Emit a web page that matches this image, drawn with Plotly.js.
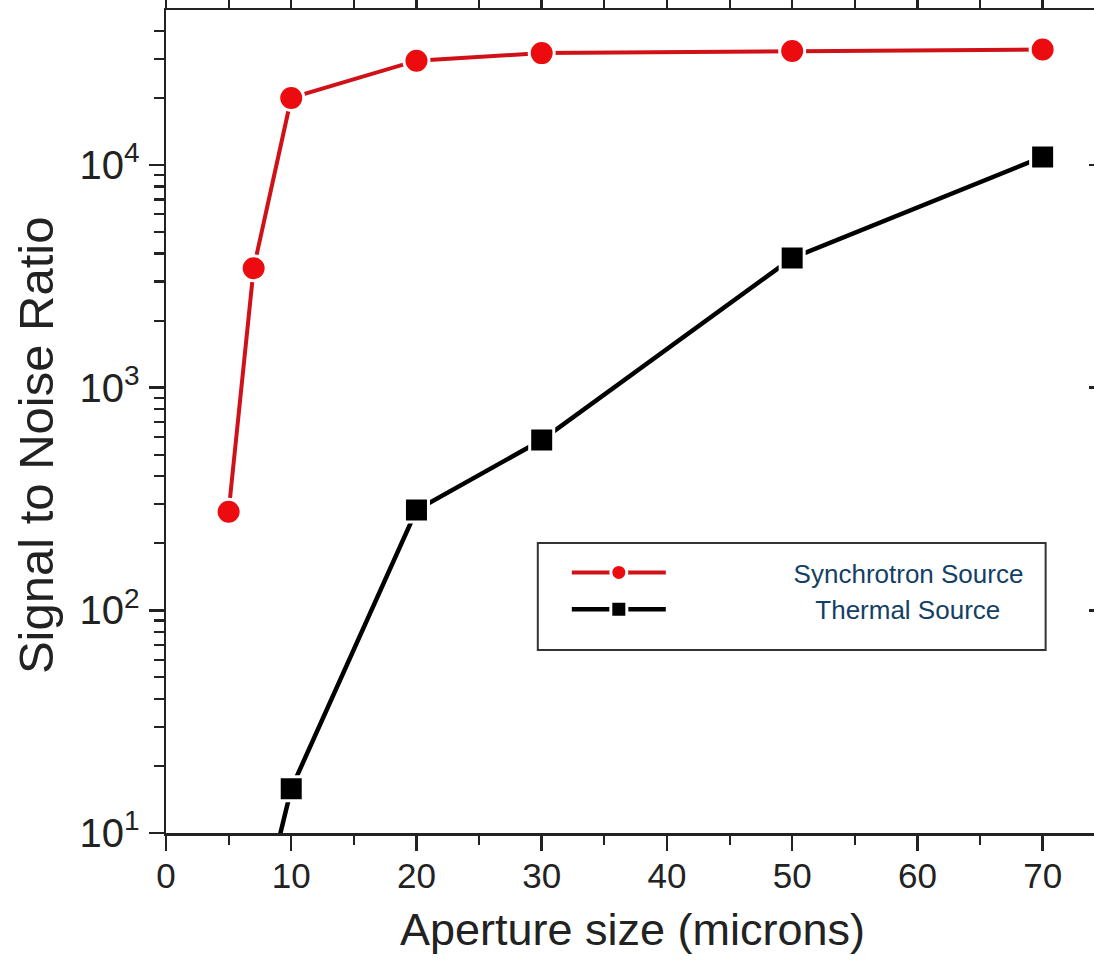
<!DOCTYPE html>
<html>
<head>
<meta charset="utf-8">
<script src="https://cdn.plot.ly/plotly-3.0.1.min.js"></script>
<style>
html, body { margin: 0; padding: 0; background: #fff; overflow: hidden; }
#chart { width: 1110px; height: 966px; }
</style>
</head>
<body>
<div id="chart"></div>
<script>
// Aperture sizes (microns) and signal-to-noise ratios
const synchrotronX = [5, 7, 10, 20, 30, 50, 70];
const synchrotronY = [277, 3436, 20000, 29400, 31800, 32500, 33000];
const thermalX = [7, 10, 20, 30, 50, 70];
const thermalY = [3.2, 15.8, 282, 582, 3818, 10870];
const seriesNames = ['Synchrotron Source', 'Thermal Source'];
const xTitle = 'Aperture size (microns)';
const yTitle = 'Signal to Noise Ratio';
const yTickVals = [10, 100, 1000, 10000];
const yTickText = ['10<sup>1</sup>', '10<sup>2</sup>', '10<sup>3</sup>', '10<sup>4</sup>'];
const yMinorTicks = [20, 30, 40, 50, 60, 70, 80, 90,
                     200, 300, 400, 500, 600, 700, 800, 900,
                     2000, 3000, 4000, 5000, 6000, 7000, 8000, 9000,
                     20000, 30000, 40000];

const nb = '\u00A0';
const pad = n => nb.repeat(n);

const traces = [
  {
    x: synchrotronX, y: synchrotronY, type: 'scatter', mode: 'lines+markers',
    name: pad(17) + seriesNames[0], legendgroup: 'a',
    line: { color: 'rgb(208,18,24)', width: 4 },
    marker: { symbol: 'circle', size: 25, color: 'rgb(236,12,16)', line: { color: '#ffffff', width: 3 } },
    hoverinfo: 'x+y'
  },
  {
    x: thermalX, y: thermalY, type: 'scatter', mode: 'lines+markers',
    name: pad(20) + seriesNames[1], legendgroup: 'b',
    line: { color: '#000000', width: 4.5 },
    marker: { symbol: 'square', size: 24, color: '#000000', line: { color: '#ffffff', width: 3 } },
    hoverinfo: 'x+y'
  },
  { // carrier for the right mirror axis (invisible)
    x: synchrotronX, y: synchrotronY, xaxis: 'x2', yaxis: 'y2', type: 'scatter',
    mode: 'markers', marker: { opacity: 0, size: 1 }, showlegend: false, hoverinfo: 'skip'
  },
  { // carrier for the long left major ticks (invisible)
    x: synchrotronX, y: synchrotronY, xaxis: 'x2', yaxis: 'y3', type: 'scatter',
    mode: 'markers', marker: { opacity: 0, size: 1 }, showlegend: false, hoverinfo: 'skip'
  }
];

const axisColor = '#222222';
const layout = {
  width: 1110, height: 966,
  margin: { l: 166, r: 11, t: 10, b: 133 },
  paper_bgcolor: '#ffffff', plot_bgcolor: '#ffffff',
  font: { family: 'Liberation Sans, Arial, sans-serif', color: axisColor },
  showlegend: true,
  legend: {
    x: 0.4296, y: 0.345, xanchor: 'left', yanchor: 'top',
    bgcolor: 'rgba(0,0,0,0)', borderwidth: 0,
    font: { size: 26, color: '#143f66' },
    traceorder: 'grouped', tracegroupgap: 0, itemwidth: 94
  },
  shapes: [{
    type: 'rect', xref: 'paper', yref: 'paper',
    x0: 0.3985, x1: 0.9428, y0: 0.2224, y1: 0.3524,
    line: { color: '#333333', width: 2 }, fillcolor: 'rgba(0,0,0,0)', layer: 'above'
  }],
  annotations: [{
    text: yTitle, xref: 'paper', yref: 'paper', x: -0.1393, y: 0.4714,
    xanchor: 'center', yanchor: 'middle', textangle: -90, showarrow: false,
    font: { size: 49, color: axisColor }
  }],
  xaxis: {
    range: [0, 74.5], showgrid: false, zeroline: false,
    showline: true, linecolor: axisColor, linewidth: 2.5, mirror: 'allticks',
    ticks: 'outside', ticklen: 15, tickwidth: 2.5, tickcolor: axisColor,
    dtick: 10, tick0: 0, ticklabelstandoff: -5,
    tickfont: { size: 35, color: axisColor },
    minor: { dtick: 5, ticks: 'outside', ticklen: 9, tickwidth: 2, tickcolor: axisColor, showgrid: false },
    title: { text: xTitle, font: { size: 45, color: axisColor }, standoff: 20 }
  },
  xaxis2: {
    overlaying: 'x', anchor: 'y2', side: 'bottom',
    range: [0, 74.5], showgrid: false, zeroline: false, showline: false,
    ticks: '', showticklabels: false
  },
  yaxis: {
    type: 'log', range: [1, 4.696], showgrid: false, zeroline: false,
    showline: true, linecolor: axisColor, linewidth: 2.5,
    ticks: 'outside', ticklen: 10, tickwidth: 2.2, tickcolor: axisColor,
    tickmode: 'array', tickvals: yTickVals.concat(yMinorTicks),
    ticktext: yTickText.concat(yMinorTicks.map(() => '')),
    tickfont: { size: 40, color: axisColor }, ticklabelstandoff: 6
  },
  yaxis2: {
    overlaying: 'y', anchor: 'x2', side: 'right', type: 'log',
    range: [1, 4.696], showgrid: false, zeroline: false,
    showline: true, linecolor: axisColor, linewidth: 2.5,
    ticks: 'inside', ticklen: 10, tickwidth: 2.5, tickcolor: axisColor,
    tickmode: 'array', tickvals: yTickVals, showticklabels: false
  },
  yaxis3: {
    overlaying: 'y', anchor: 'x2', side: 'left', type: 'log',
    range: [1, 4.696], showgrid: false, zeroline: false, showline: false,
    ticks: 'outside', ticklen: 16, tickwidth: 2.5, tickcolor: axisColor,
    tickmode: 'array', tickvals: yTickVals, showticklabels: false
  }
};

Plotly.newPlot('chart', traces, layout, { displayModeBar: false, staticPlot: true });
</script>
</body>
</html>
